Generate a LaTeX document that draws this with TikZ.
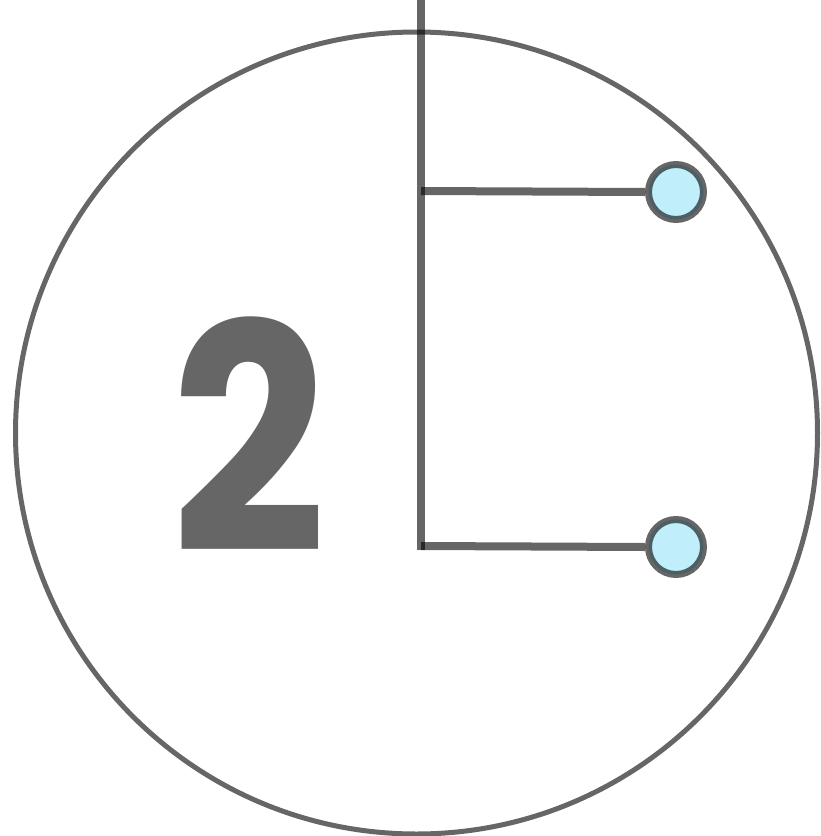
\documentclass[tikz,border=0pt]{standalone}
\usepackage{fontspec}
\usepackage{xcolor}
\usepackage{tikz}
\newfontfamily\numfont{Poppins}
\definecolor{dotblue}{RGB}{192,238,251}

\begin{document}
\begin{tikzpicture}[
  x=1pt, y=-1pt,
  ring/.style={draw=black, draw opacity=0.6, line width=5pt},
  wire/.style={draw=black, draw opacity=0.6, line width=8pt},
  dot/.style={
    circle, draw=black, draw opacity=0.6, fill=dotblue,
    line width=7pt, minimum size=55pt, inner sep=0pt
  },
  bignum/.style={
    font=\numfont\bfseries\fontsize{316}{316}\selectfont,
    text=black!60, inner sep=0pt, anchor=south
  },
]
\useasboundingbox (0,0) rectangle (821,836);

% ============================================================
% OUTER RING AND NUMBER
% ============================================================
\node[circle, minimum size=802pt, inner sep=0pt] (outer) at (416.5,433) {};
\draw[ring] (outer.center) circle[radius=401];
\node[bignum] (num) at (249,553) {\scalebox{0.86}[1]{2}};

% ============================================================
% STEM WITH TWO BRANCHES
% ============================================================
\coordinate (stemtop) at (421,0);
\coordinate (branchA) at (421,191);
\coordinate (branchB) at (421,546);
\coordinate (stemend) at (421,550);
\node[dot] (dotA) at (676,192) {};
\node[dot] (dotB) at (676,547) {};

\draw[wire] (stemtop) -- (stemend);
\draw[wire] (branchA) -- (dotA.west);
\draw[wire] (branchB) -- (dotB.west);

\end{tikzpicture}
\end{document}
